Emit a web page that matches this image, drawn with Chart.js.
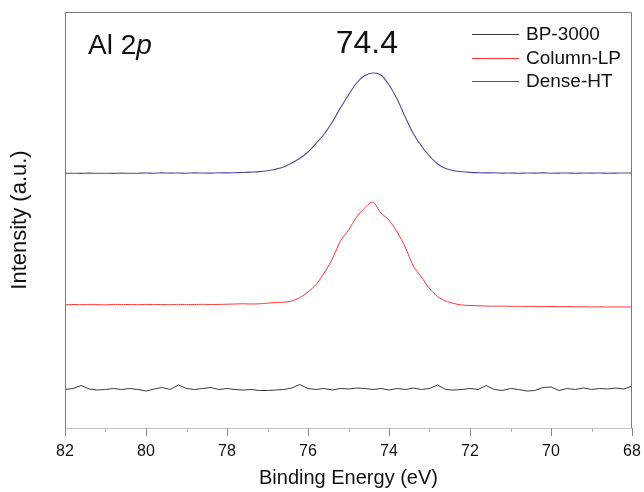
<!DOCTYPE html>
<html>
<head>
<meta charset="utf-8">
<script src="https://cdn.jsdelivr.net/npm/chart.js@4.4.1/dist/chart.umd.min.js"></script>
<style>
  html, body { margin: 0; padding: 0; background: #ffffff; }
  #wrap { width: 644px; height: 492px; }
</style>
</head>
<body>
<div id="wrap"><canvas id="c" width="644" height="492"></canvas></div>
<script>
// Binding energy grid (eV)
const energy = [
  82.0, 81.8, 81.6, 81.4, 81.2, 81.0, 80.8, 80.6, 80.4, 80.2,
  80.0, 79.8, 79.6, 79.4, 79.2, 79.0, 78.8, 78.6, 78.4, 78.2,
  78.0, 77.8, 77.6, 77.4, 77.2, 77.0, 76.8, 76.6, 76.4, 76.2,
  76.0, 75.8, 75.6, 75.4, 75.2, 75.0, 74.8, 74.6, 74.4, 74.2,
  74.0, 73.8, 73.6, 73.4, 73.2, 73.0, 72.8, 72.6, 72.4, 72.2,
  72.0, 71.8, 71.6, 71.4, 71.2, 71.0, 70.8, 70.6, 70.4, 70.2,
  70.0, 69.8, 69.6, 69.4, 69.2, 69.0, 68.8, 68.6, 68.4, 68.2,
  68.0
];

// Intensities (a.u., stacked offsets as in the figure)
const bp3000 = [
  38.5, 39.5, 42.5, 39.0, 38.0, 38.5, 39.5, 38.5, 39.5, 38.5,
  37.0, 39.0, 40.5, 38.5, 43.0, 39.5, 38.5, 39.5, 40.5, 38.5,
  39.5, 38.5, 38.0, 38.5, 37.5, 37.5, 38.0, 38.5, 40.0, 43.5,
  39.5, 38.5, 39.5, 38.0, 39.5, 39.0, 40.0, 39.5, 38.5, 39.5,
  38.0, 39.5, 38.5, 40.0, 38.5, 39.5, 43.0, 38.5, 38.0, 38.5,
  39.5, 38.5, 42.5, 38.5, 37.5, 39.5, 38.5, 37.0, 37.5, 40.5,
  41.0, 37.5, 39.5, 38.5, 40.0, 38.5, 39.5, 39.0, 40.0, 39.0,
  42.0
];

const columnLP = [
  123.2, 123.5, 123.3, 123.6, 123.4, 123.2, 123.6, 123.4, 123.5, 123.3,
  123.6, 123.4, 123.5, 123.3, 123.6, 123.4, 123.5, 123.7, 123.4, 123.6,
  123.8, 124.0, 124.2, 124.0, 124.2, 124.8, 125.5, 125.8, 127.0, 130.5,
  136.0, 143.5, 155.0, 169.0, 187.0, 198.0, 211.0, 220.0, 226.0, 215.0,
  208.0, 196.0, 181.0, 162.0, 151.0, 139.5, 131.5, 127.0, 124.5, 123.0,
  122.5, 122.2, 122.0, 121.8, 121.9, 121.6, 121.7, 121.5, 121.6, 121.4,
  121.5, 121.3, 121.4, 121.2, 121.3, 121.1, 121.2, 121.0, 121.1, 121.0,
  121.0
];

const denseHT = [
  254.6, 254.8, 254.6, 254.9, 254.7, 254.8, 254.6, 254.9, 254.7, 254.8,
  255.0, 254.8, 255.1, 254.9, 255.0, 254.8, 255.1, 255.0, 254.9, 255.2,
  255.1, 255.3, 255.5, 255.9, 256.4, 257.3, 258.8, 261.0, 265.0, 269.7,
  276.0, 284.5, 294.0, 306.0, 320.0, 333.0, 345.0, 352.5, 355.0, 353.0,
  343.0, 329.0, 311.0, 294.5, 282.0, 272.0, 264.0, 259.5, 257.3, 256.2,
  255.6, 255.3, 255.1, 255.2, 254.9, 255.0, 254.8, 255.0, 254.9, 255.1,
  254.8, 254.9, 255.0, 254.8, 255.0, 254.9, 255.0, 254.8, 254.9, 255.0,
  254.9
];

const seriesNames = ["BP-3000", "Column-LP", "Dense-HT"];
const seriesColors = ["#3a3a3a", "#ff3333", "#4a4a9e"];
const majorTicks = [82, 80, 78, 76, 74, 72, 70, 68];
const minorTicks = [81, 79, 77, 75, 73, 71, 69];
const peakLabel = "74.4";
const peakPosition = 74.4;

const FONT = "'Liberation Sans', Arial, Helvetica, sans-serif";

function toPoints(ys) { return energy.map((e, i) => ({ x: e, y: ys[i] })); }

const framePlugin = {
  id: 'frame',
  afterDraw(chart) {
    const ctx = chart.ctx;
    const a = chart.chartArea;
    const xs = chart.scales.x;
    ctx.save();
    // minor ticks
    ctx.strokeStyle = '#b0b0b0';
    ctx.lineWidth = 1;
    minorTicks.forEach(v => {
      const px = Math.round(xs.getPixelForValue(v)) + 0.5;
      ctx.beginPath(); ctx.moveTo(px, a.bottom); ctx.lineTo(px, a.bottom + 4); ctx.stroke();
    });
    // major ticks
    ctx.strokeStyle = '#8a8a8a';
    majorTicks.forEach(v => {
      const px = Math.round(xs.getPixelForValue(v)) + 0.5;
      ctx.beginPath(); ctx.moveTo(px, a.bottom); ctx.lineTo(px, a.bottom + 8); ctx.stroke();
    });
    // frame: left, top, right
    ctx.strokeStyle = '#7a7a7a';
    ctx.beginPath();
    ctx.moveTo(Math.round(a.left) + 0.5, a.bottom);
    ctx.lineTo(Math.round(a.left) + 0.5, Math.round(a.top) + 0.5);
    ctx.lineTo(Math.round(a.right) - 0.5, Math.round(a.top) + 0.5);
    ctx.lineTo(Math.round(a.right) - 0.5, a.bottom);
    ctx.stroke();

    // annotations
    ctx.fillStyle = '#111';
    ctx.textBaseline = 'alphabetic';
    ctx.textAlign = 'left';
    ctx.font = "28px " + FONT;
    const lx = a.left + 23, ly = a.top + 42;
    ctx.fillText("Al 2", lx, ly);
    const w = ctx.measureText("Al 2").width;
    ctx.font = "italic 28px " + FONT;
    ctx.fillText("p", lx + w, ly);

    ctx.font = "32px " + FONT;
    ctx.textAlign = 'center';
    ctx.fillText(peakLabel, xs.getPixelForValue(peakPosition) - 6, a.top + 41);

    // legend
    ctx.font = "19px " + FONT;
    ctx.textAlign = 'left';
    ctx.textBaseline = 'middle';
    seriesNames.forEach((name, i) => {
      const y = a.top + 22 + i * 23.5;
      ctx.strokeStyle = seriesColors[i];
      ctx.lineWidth = 1;
      ctx.beginPath(); ctx.moveTo(a.right - 160, Math.round(y) + 0.5); ctx.lineTo(a.right - 113, Math.round(y) + 0.5); ctx.stroke();
      ctx.fillStyle = '#111';
      ctx.fillText(name, a.right - 106, y + 1);
    });
    ctx.restore();
  }
};

new Chart(document.getElementById('c'), {
  type: 'line',
  data: {
    datasets: [
      { label: seriesNames[0], data: toPoints(bp3000), borderColor: seriesColors[0], borderWidth: 1, pointRadius: 0, tension: 0 },
      { label: seriesNames[1], data: toPoints(columnLP), borderColor: seriesColors[1], borderWidth: 1, pointRadius: 0, tension: 0.25 },
      { label: seriesNames[2], data: toPoints(denseHT), borderColor: seriesColors[2], borderWidth: 1.1, pointRadius: 0, tension: 0.3 }
    ]
  },
  options: {
    responsive: false,
    devicePixelRatio: 1,
    animation: false,
    layout: { padding: { top: 12, right: 12, left: 0, bottom: 0 } },
    plugins: { legend: { display: false }, tooltip: { enabled: false } },
    scales: {
      x: {
        type: 'linear',
        reverse: true,
        min: 68, max: 82,
        afterBuildTicks(scale) { scale.ticks = majorTicks.map(v => ({ value: v })); },
        afterFit(scale) { scale.height = 64; scale.paddingLeft = 0; scale.paddingRight = 0; },
        ticks: { color: '#111', font: { family: FONT, size: 16 }, padding: 14, maxRotation: 0 },
        grid: { display: true, drawOnChartArea: false, drawTicks: false },
        border: { display: true, color: '#c4c4c4', width: 1 },
        title: { display: true, text: 'Binding Energy (eV)', color: '#111', font: { family: FONT, size: 20 }, padding: { top: 0, bottom: 2 } }
      },
      y: {
        type: 'linear',
        min: 0, max: 416,
        afterFit(scale) { scale.width = 65; },
        ticks: { display: false },
        grid: { display: false, drawTicks: false },
        border: { display: false },
        title: { display: true, text: 'Intensity (a.u.)', color: '#111', font: { family: FONT, size: 22 }, padding: { top: 7, bottom: 0 } }
      }
    }
  },
  plugins: [framePlugin]
});
</script>
</body>
</html>
